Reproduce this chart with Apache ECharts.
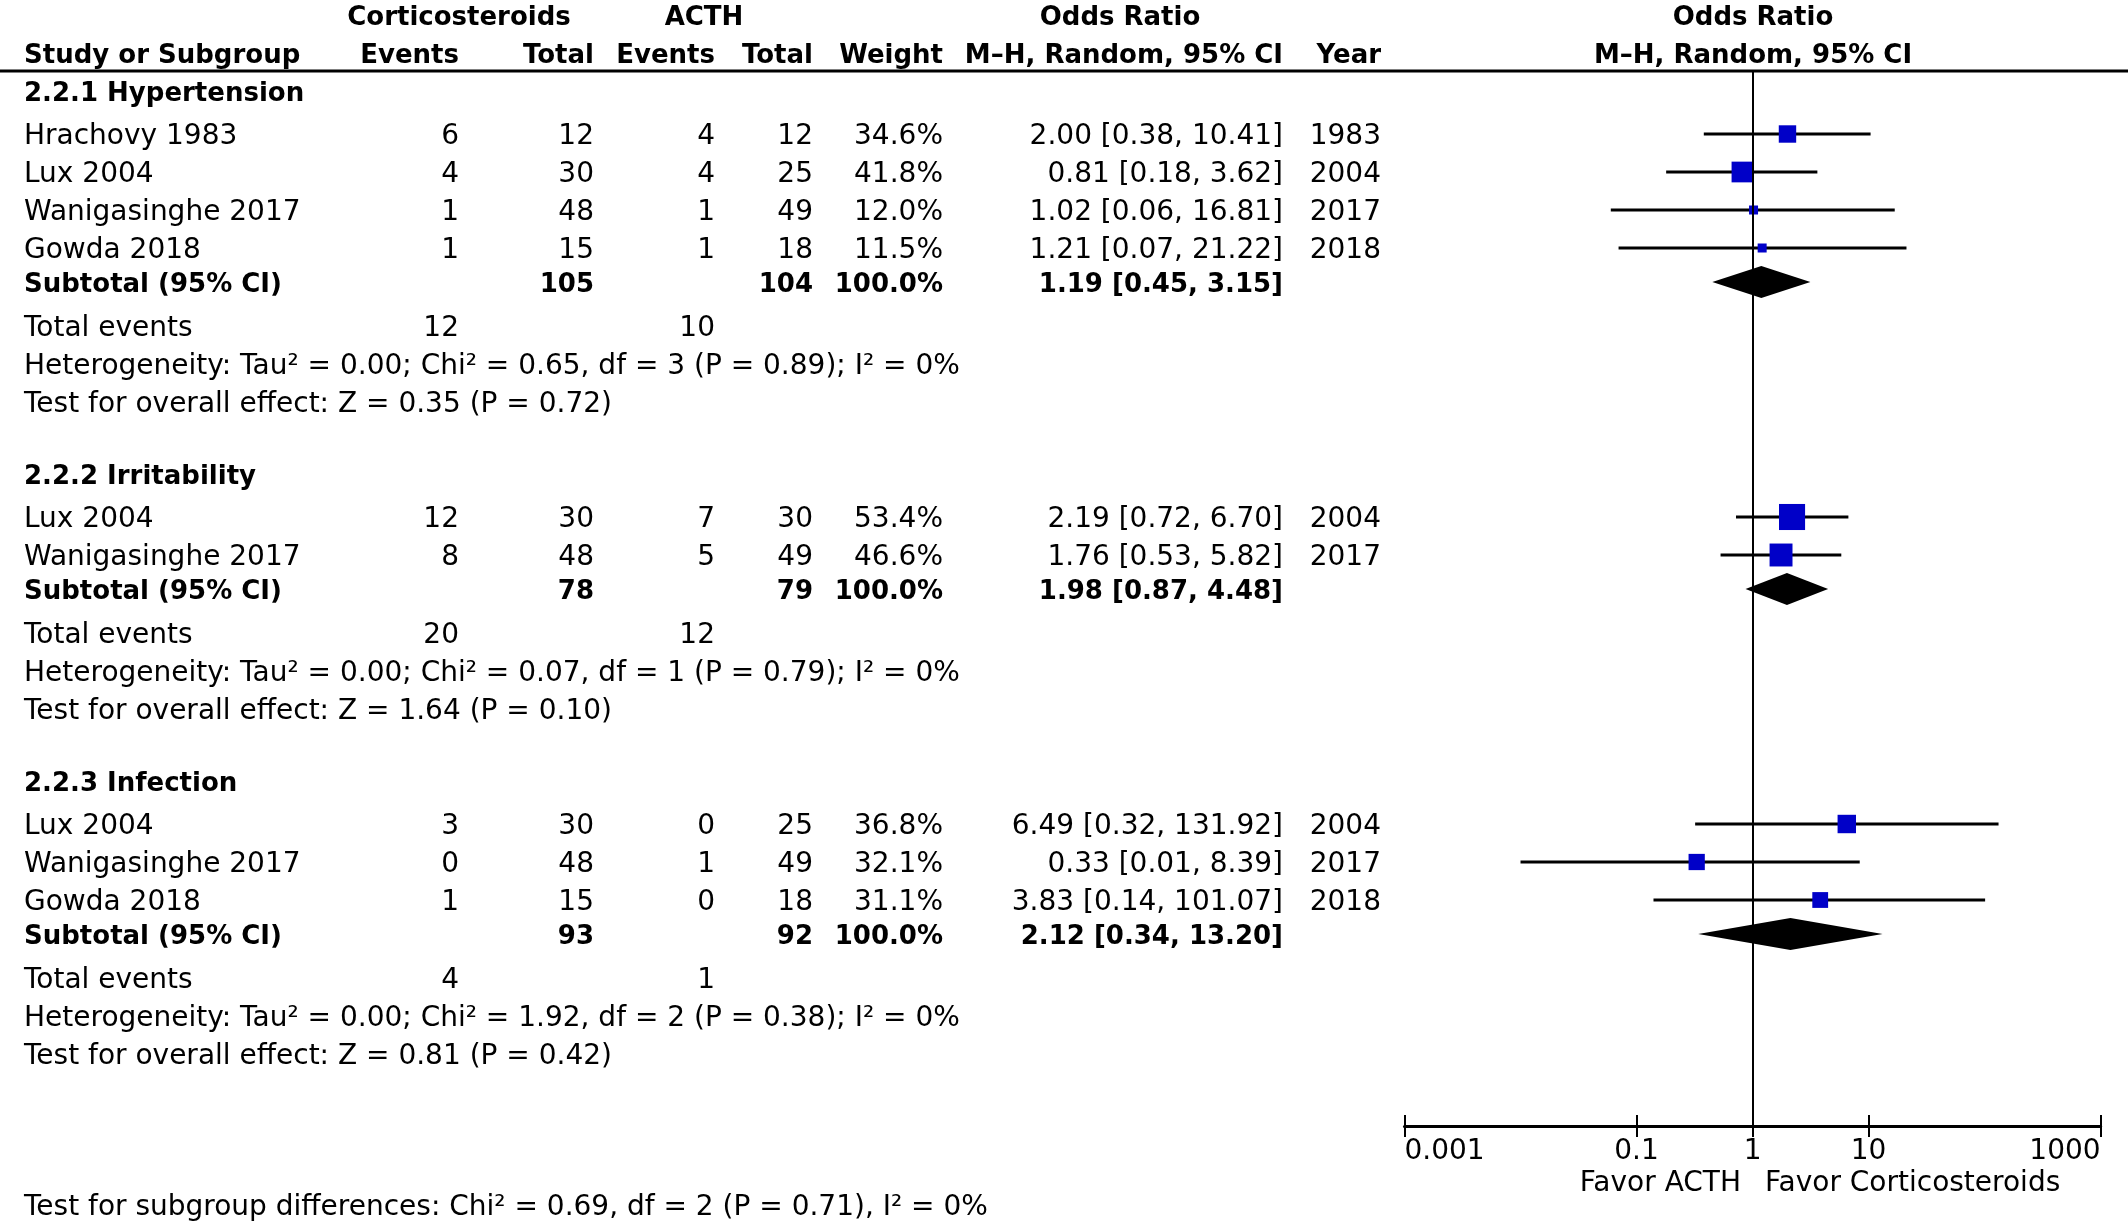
<!DOCTYPE html>
<html><head><meta charset="utf-8">
<script src="https://cdn.jsdelivr.net/npm/echarts@6/dist/echarts.min.js"></script>
<style>html,body{margin:0;padding:0;background:#fff}#c{width:2128px;height:1221px}</style>
</head><body><div id="c"></div>
<script>
// ---------------- DATA ----------------
const subgroupTitles = ['2.2.1 Hypertension', '2.2.2 Irritability', '2.2.3 Infection'];
const studyGroup = [0, 0, 0, 0, 1, 1, 2, 2, 2];
const studyNames = ['Hrachovy 1983', 'Lux 2004', 'Wanigasinghe 2017', 'Gowda 2018', 'Lux 2004', 'Wanigasinghe 2017', 'Lux 2004', 'Wanigasinghe 2017', 'Gowda 2018'];
const studyYears = ['1983', '2004', '2017', '2018', '2004', '2017', '2004', '2017', '2018'];
const corticoEvents = [6, 4, 1, 1, 12, 8, 3, 0, 1];
const corticoTotal = [12, 30, 48, 15, 30, 48, 30, 48, 15];
const acthEvents = [4, 4, 1, 1, 7, 5, 0, 1, 0];
const acthTotal = [12, 25, 49, 18, 30, 49, 25, 49, 18];
const studyWeight = [34.6, 41.8, 12.0, 11.5, 53.4, 46.6, 36.8, 32.1, 31.1];
const studyOR = [2.00, 0.81, 1.02, 1.21, 2.19, 1.76, 6.49, 0.33, 3.83];
const studyLow = [0.38, 0.18, 0.06, 0.07, 0.72, 0.53, 0.32, 0.01, 0.14];
const studyHigh = [10.41, 3.62, 16.81, 21.22, 6.70, 5.82, 131.92, 8.39, 101.07];
const subCorticoTotal = [105, 78, 93];
const subActhTotal = [104, 79, 92];
const subCorticoEvents = [12, 20, 4];
const subActhEvents = [10, 12, 1];
const subOR = [1.19, 1.98, 2.12];
const subLow = [0.45, 0.87, 0.34];
const subHigh = [3.15, 4.48, 13.20];
const hetTau2 = ['0.00', '0.00', '0.00'];
const hetChi2 = ['0.65', '0.07', '1.92'];
const hetDf = [3, 1, 2];
const hetP = ['0.89', '0.79', '0.38'];
const hetI2 = [0, 0, 0];
const effectZ = ['0.35', '1.64', '0.81'];
const effectP = ['0.72', '0.10', '0.42'];
const subgroupDiff = ['0.69', '2', '0.71', '0']; // Chi², df, P, I²
const tickValues = [0.001, 0.1, 1, 10, 1000];
const tickLabels = ['0.001', '0.1', '1', '10', '1000'];

// ---------------- LAYOUT ----------------
const FONT = 'DejaVu Sans';
const REG = 28, BOLD = 26;
const DY = 3; // text baseline nudge
const COL = { name: 24, ce: 459, ct: 594, ae: 715, at: 813, w: 943, or: 1283, year: 1381 };
const PLOT = { left: 1404.5, right: 2128 - 2100.6, top: 71, bottom: 1221 - 1126 };

const studyY = [], subY = [], texts = [];
function txt(s, x, y, align, bold) {
  texts.push({ type: 'text', silent: true, style: {
    text: String(s), x: x, y: y + DY, textAlign: align || 'left', textVerticalAlign: 'middle',
    align: align || 'left', verticalAlign: 'middle',
    fontFamily: FONT, fontSize: bold ? BOLD : REG, fontWeight: bold ? 'bold' : 'normal', fill: '#000'
  }});
}
const f2 = v => v.toFixed(2);
const ciText = (e, l, h) => f2(e) + ' [' + f2(l) + ', ' + f2(h) + ']';

// headers
txt('Corticosteroids', 459, 15, 'center', true);
txt('ACTH', 704, 15, 'center', true);
txt('Odds Ratio', 1120, 15, 'center', true);
txt('Odds Ratio', 1753, 15, 'center', true);
txt('Study or Subgroup', COL.name, 53, 'left', true);
txt('Events', COL.ce, 53, 'right', true);
txt('Total', COL.ct, 53, 'right', true);
txt('Events', COL.ae, 53, 'right', true);
txt('Total', COL.at, 53, 'right', true);
txt('Weight', COL.w, 53, 'right', true);
txt('M\u2013H, Random, 95% CI', COL.or, 53, 'right', true);
txt('Year', COL.year, 53, 'right', true);
txt('M\u2013H, Random, 95% CI', 1753, 53, 'center', true);

let y = 91;
subgroupTitles.forEach((title, g) => {
  txt(title, COL.name, y, 'left', true);
  y += 43;
  const idx = studyGroup.map((s, i) => (s === g ? i : -1)).filter(i => i >= 0);
  idx.forEach((i, n) => {
    studyY[i] = y;
    txt(studyNames[i], COL.name, y, 'left');
    txt(corticoEvents[i], COL.ce, y, 'right');
    txt(corticoTotal[i], COL.ct, y, 'right');
    txt(acthEvents[i], COL.ae, y, 'right');
    txt(acthTotal[i], COL.at, y, 'right');
    txt(studyWeight[i].toFixed(1) + '%', COL.w, y, 'right');
    txt(ciText(studyOR[i], studyLow[i], studyHigh[i]), COL.or, y, 'right');
    txt(studyYears[i], COL.year, y, 'right');
    if (n < idx.length - 1) y += 38;
  });
  y += 34;
  subY[g] = y;
  txt('Subtotal (95% CI)', COL.name, y, 'left', true);
  txt(subCorticoTotal[g], COL.ct, y, 'right', true);
  txt(subActhTotal[g], COL.at, y, 'right', true);
  txt('100.0%', COL.w, y, 'right', true);
  txt(ciText(subOR[g], subLow[g], subHigh[g]), COL.or, y, 'right', true);
  y += 44;
  txt('Total events', COL.name, y, 'left');
  txt(subCorticoEvents[g], COL.ce, y, 'right');
  txt(subActhEvents[g], COL.ae, y, 'right');
  y += 38;
  txt('Heterogeneity: Tau\u00b2 = ' + hetTau2[g] + '; Chi\u00b2 = ' + hetChi2[g] + ', df = ' + hetDf[g] +
      ' (P = ' + hetP[g] + '); I\u00b2 = ' + hetI2[g] + '%', COL.name, y, 'left');
  y += 38;
  txt('Test for overall effect: Z = ' + effectZ[g] + ' (P = ' + effectP[g] + ')', COL.name, y, 'left');
  y += 72;
});
txt('Test for subgroup differences: Chi\u00b2 = ' + subgroupDiff[0] + ', df = ' + subgroupDiff[1] +
    ' (P = ' + subgroupDiff[2] + '), I\u00b2 = ' + subgroupDiff[3] + '%', COL.name, 1205, 'left');
txt('Favor ACTH', 1741, 1181, 'right');
txt('Favor Corticosteroids', 1765, 1181, 'left');
texts.push({ type: 'line', silent: true, shape: { x1: 0, y1: 71, x2: 2128, y2: 71 }, style: { stroke: '#000', lineWidth: 3 } });

// ---------------- CHART ----------------
const chart = echarts.init(document.getElementById('c'), null, { renderer: 'canvas' });
const labelFor = v => {
  let best = 0;
  tickValues.forEach((t, i) => { if (Math.abs(Math.log10(t) - Math.log10(v)) < Math.abs(Math.log10(tickValues[best]) - Math.log10(v))) best = i; });
  return tickLabels[best];
};
const baseX = { type: 'log', logBase: 10, min: 0.001, max: 1000, position: 'bottom', gridIndex: 0,
  splitLine: { show: false }, minorTick: { show: false }, minorSplitLine: { show: false } };

chart.setOption({
  animation: false,
  backgroundColor: '#fff',
  grid: { left: PLOT.left, right: PLOT.right, top: PLOT.top, bottom: PLOT.bottom, containLabel: false },
  xAxis: [
    Object.assign({}, baseX, {
      axisLine: { show: true, lineStyle: { color: '#000', width: 3 } },
      axisTick: { show: true, inside: false, length: 11, customValues: tickValues, lineStyle: { color: '#000', width: 2 } },
      axisLabel: { show: true, customValues: tickValues, formatter: labelFor, color: '#000', fontSize: REG,
        fontFamily: FONT, margin: 12, alignMinLabel: 'left', alignMaxLabel: 'right' }
    }),
    Object.assign({}, baseX, {
      axisLine: { show: false },
      axisTick: { show: true, inside: true, length: 11, customValues: tickValues, lineStyle: { color: '#000', width: 2 } },
      axisLabel: { show: false }
    })
  ],
  yAxis: { type: 'value', min: 71, max: 1126, inverse: true, show: false },
  graphic: texts,
  series: [
    {
      type: 'custom', xAxisIndex: 0, yAxisIndex: 0,
      data: studyOR.map((v, i) => [v, studyLow[i], studyHigh[i], studyWeight[i], studyY[i]]),
      encode: { x: [0, 1, 2], y: 4 },
      renderItem: (params, api) => {
        const yy = api.value(4);
        const lo = api.coord([api.value(1), yy]), hi = api.coord([api.value(2), yy]), c = api.coord([api.value(0), yy]);
        const s = Math.max(9, api.value(3) * 0.46 + 1.5);
        return { type: 'group', children: [
          { type: 'line', shape: { x1: lo[0], y1: lo[1], x2: hi[0], y2: hi[1] }, style: { stroke: '#000', lineWidth: 3 } },
          { type: 'rect', shape: { x: c[0] - s / 2, y: c[1] - s / 2, width: s, height: s }, style: { fill: '#0000C8' } }
        ]};
      },
      markLine: { silent: true, symbol: 'none', label: { show: false },
        lineStyle: { color: '#000', width: 2, type: 'solid' }, data: [{ xAxis: 1 }] },
      z: 3
    },
    {
      type: 'custom', xAxisIndex: 0, yAxisIndex: 0,
      data: subOR.map((v, g) => [v, subLow[g], subHigh[g], subY[g]]),
      encode: { x: [0, 1, 2], y: 3 },
      renderItem: (params, api) => {
        const yy = api.value(3);
        const lo = api.coord([api.value(1), yy]), hi = api.coord([api.value(2), yy]), c = api.coord([api.value(0), yy]);
        const h = 16;
        return { type: 'polygon', shape: { points: [[lo[0], lo[1]], [c[0], c[1] - h], [hi[0], hi[1]], [c[0], c[1] + h]] },
          style: { fill: '#000' } };
      },
      z: 4
    }
  ]
});
</script>
</body></html>
